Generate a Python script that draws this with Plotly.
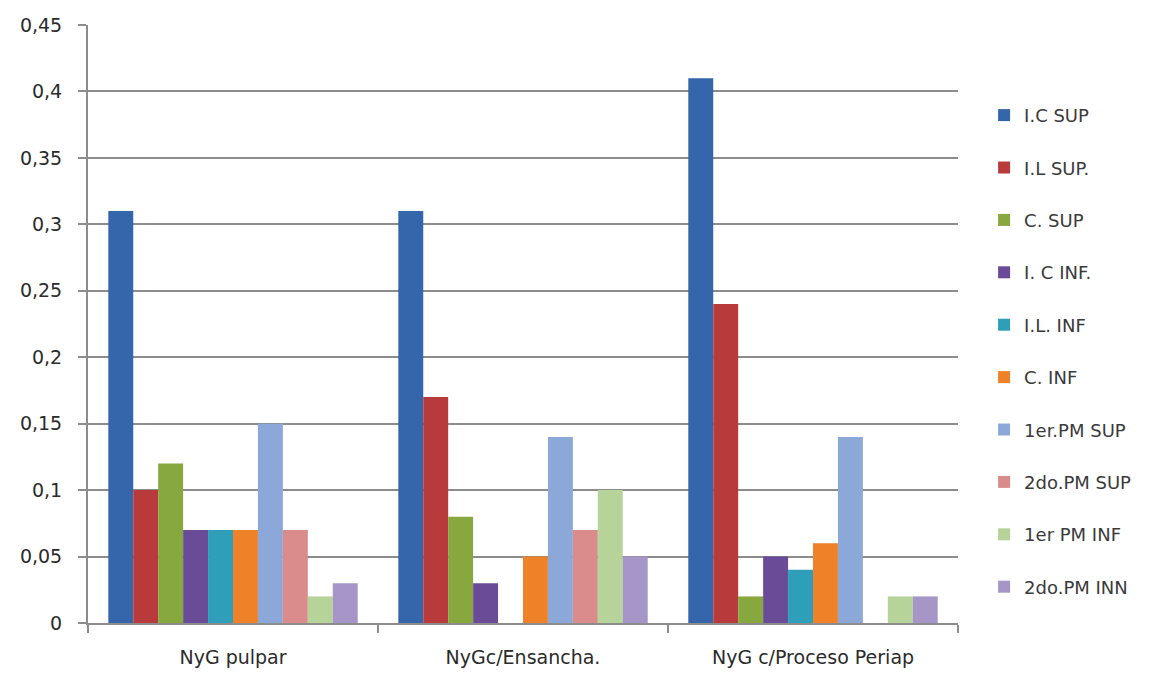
import plotly.graph_objects as go

categories = ["NyG pulpar", "NyGc/Ensancha.", "NyG c/Proceso Periap"]

series_names = ["I.C SUP", "I.L SUP.", "C. SUP", "I. C INF.", "I.L. INF",
                "C. INF", "1er.PM SUP", "2do.PM SUP", "1er PM INF", "2do.PM INN"]

ic_sup = [0.31, 0.31, 0.41]
il_sup = [0.10, 0.17, 0.24]
c_sup = [0.12, 0.08, 0.02]
ic_inf = [0.07, 0.03, 0.05]
il_inf = [0.07, 0.0, 0.04]
c_inf = [0.07, 0.05, 0.06]
pm1_sup = [0.15, 0.14, 0.14]
pm2_sup = [0.07, 0.07, 0.0]
pm1_inf = [0.02, 0.10, 0.02]
pm2_inn = [0.03, 0.05, 0.02]

series_values = [ic_sup, il_sup, c_sup, ic_inf, il_inf,
                 c_inf, pm1_sup, pm2_sup, pm1_inf, pm2_inn]

colors = ["#3565AA", "#B93A3A", "#87A83E", "#6A4B98", "#2F9FB9",
          "#EF8128", "#8CA8D8", "#D98C8B", "#B6D39A", "#A596C7"]

y_ticks = [0, 0.05, 0.1, 0.15, 0.2, 0.25, 0.3, 0.35, 0.4, 0.45]

fig = go.Figure()
for i, (name, vals, col) in enumerate(zip(series_names, series_values, colors)):
    fig.add_trace(go.Bar(
        x=categories, y=vals, name=name,
        marker=dict(color=col, line=dict(width=0)),
        legendgroup=f"g{i}",
    ))

fig.update_layout(
    barmode="group",
    bargap=0.14,
    bargroupgap=0,
    width=1165, height=673,
    margin=dict(l=88, r=207, t=25, b=50),
    paper_bgcolor="white",
    plot_bgcolor="white",
    separators=",.",
    font=dict(family="DejaVu Sans, sans-serif", color="#333333", size=16),
    legend=dict(
        x=1.03, xanchor="left", y=0.455, yanchor="middle",
        font=dict(size=18, color="#3a3a3a"),
        tracegroupgap=26,
        itemwidth=30,
        bgcolor="rgba(0,0,0,0)",
    ),
    showlegend=True,
)

fig.update_yaxes(
    range=[0, 0.45],
    tickvals=y_ticks,
    automargin=False,
    showgrid=True, gridcolor="#8C8C8C", gridwidth=2,
    showline=True, linecolor="#8C8C8C", linewidth=2,
    ticks="outside", ticklen=8, tickcolor="#8C8C8C", tickwidth=2,
    tickfont=dict(size=19, color="#2b2b2b"),
    ticklabelstandoff=12,
    zeroline=False,
)

fig.update_xaxes(
    automargin=False,
    showline=True, linecolor="#8C8C8C", linewidth=2,
    ticks="outside", tickson="boundaries", ticklen=8,
    tickcolor="#8C8C8C", tickwidth=2,
    tickfont=dict(size=19, color="#2b2b2b"),
    ticklabelstandoff=16,
)

fig.write_html("out.html")
